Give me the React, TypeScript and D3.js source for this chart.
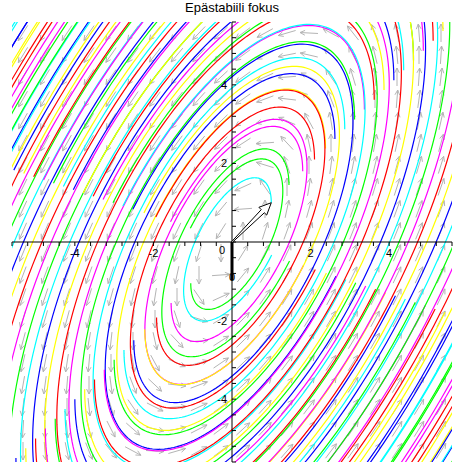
import React from "react";
import * as d3 from "d3";

// unstable focus: x' = A*x + B*y, y' = C*x + D*y
const coefA = 1.1;
const coefB = -1.1;
const coefC = 2.6;
const coefD = -0.92;

const title = "Epästabiili fokus";

// start points (k, k) in 1st quadrant and (-k, -k) in 3rd quadrant
const startsQ1 = [1.0, 1.45, 1.8, 2.1, 2.38, 2.62, 2.87, 3.12, 3.37, 3.62, 3.87, 4.12, 4.37, 4.62, 4.87,
  5.12, 5.37, 5.62, 5.87, 6.12, 6.37, 6.62, 6.87, 7.12, 7.37, 7.62, 7.87, 8.12, 8.37, 8.62, 8.87, 9.12,
  9.37, 9.62, 9.87, 10.12, 10.37, 10.62, 10.87, 11.12];
const startsQ3 = [1.05, 1.55, 1.92, 2.22, 2.5, 2.75, 3.0, 3.25, 3.5, 3.75, 4.0, 4.25, 4.5, 4.75, 5.0,
  5.25, 5.5, 5.75, 6.0, 6.25, 6.5, 6.75, 7.0, 7.25, 7.5, 7.75, 8.0, 8.25, 8.5, 8.75, 9.0, 9.25, 9.5,
  9.75, 10.0, 10.25, 10.5, 10.75, 11.0, 11.25];
const lineColors = ["#00ffff", "#00ff00", "#ff00ff", "#ff0000", "#ffff00", "#0000ff"];
const tickLabels = [-4, -2, 2, 4];

const T_END = 4.0;
const DT = 0.02;

const field = (x: number, y: number) => [coefA * x + coefB * y, coefC * x + coefD * y];

const integrate = (x0: number, y0: number) => {
  const pts: [number, number][] = [[x0, y0]];
  let x = x0, y = y0;
  for (let t = 0; t < T_END; t += DT) {
    const k1 = field(x, y);
    const k2 = field(x + DT / 2 * k1[0], y + DT / 2 * k1[1]);
    const k3 = field(x + DT / 2 * k2[0], y + DT / 2 * k2[1]);
    const k4 = field(x + DT * k3[0], y + DT * k3[1]);
    x += DT / 6 * (k1[0] + 2 * k2[0] + 2 * k3[0] + k4[0]);
    y += DT / 6 * (k1[1] + 2 * k2[1] + 2 * k3[1] + k4[1]);
    pts.push([x, y]);
    if (Math.abs(x) > 60 || Math.abs(y) > 60) break;
  }
  return pts;
};

export default function App() {
  const W = 464, H = 464;
  const left = 12, right = 452, top = 22, bottom = 462;
  const xS = d3.scaleLinear().domain([-5.6, 5.6]).range([left, right]);
  const yS = d3.scaleLinear().domain([-5.6, 5.6]).range([bottom, top]);

  const line = d3.line<[number, number]>().x(d => xS(d[0])).y(d => yS(d[1]));

  const curves: { d: string; c: string }[] = [];
  startsQ1.forEach((k, i) => curves.push({ d: line(integrate(k, k)) || "", c: lineColors[i % 6] }));
  startsQ3.forEach((k, i) => curves.push({ d: line(integrate(-k, -k)) || "", c: lineColors[(i + 1) % 6] }));

  // direction field arrows
  const grid = d3.range(20).map(i => -5.6 + 0.56 * (i + 0.5));
  const arrows: JSX.Element[] = [];
  grid.forEach((gx, i) => grid.forEach((gy, j) => {
    const [u, v] = field(gx, gy);
    const px = xS(gx), py = yS(gy);
    const dxp = u, dyp = -v;
    const m = Math.hypot(dxp, dyp) || 1;
    const L = 18;
    const ux = dxp / m, uy = dyp / m;
    const x1 = px - ux * L / 2, y1 = py - uy * L / 2;
    const x2 = px + ux * L / 2, y2 = py + uy * L / 2;
    const hl = 5.5, ang = 0.45;
    const ca = Math.cos(ang), sa = Math.sin(ang);
    const h1x = x2 - hl * (ux * ca - uy * sa), h1y = y2 - hl * (uy * ca + ux * sa);
    const h2x = x2 - hl * (ux * ca + uy * sa), h2y = y2 - hl * (uy * ca - ux * sa);
    arrows.push(
      <path key={`a${i}-${j}`} d={`M${x1},${y1}L${x2},${y2}M${h1x},${h1y}L${x2},${y2}L${h2x},${h2y}`}
        stroke="#b4b4b4" strokeWidth={1} fill="none" />
    );
  }));

  // black hollow arrow from origin to (1,1)
  const ox = xS(0), oy = yS(0), tx = xS(1), ty = yS(1);
  const len = Math.hypot(tx - ox, ty - oy);
  const ex = (tx - ox) / len, ey = (ty - oy) / len;
  const nx = -ey, ny = ex;
  const hw = 2.2, hh = 5.5, headL = 12;
  const neckX = tx - ex * headL, neckY = ty - ey * headL;
  const arrowPts = [
    [ox + nx * 0.5, oy + ny * 0.5],
    [neckX + nx * hw, neckY + ny * hw],
    [neckX + nx * hh, neckY + ny * hh],
    [tx, ty],
    [neckX - nx * hh, neckY - ny * hh],
    [neckX - nx * hw, neckY - ny * hw],
    [ox - nx * 0.5, oy - ny * 0.5],
  ].map(p => p.join(",")).join(" ");

  const minorTicks = d3.range(-14, 15).map(i => i * 0.4);
  const font = "'Liberation Sans', Arial, sans-serif";

  return (
    <svg width={W} height={H} style={{ position: "absolute", left: 0, top: 0, background: "#fff" }}>
      <defs>
        <clipPath id="plotClip">
          <rect x={left} y={top} width={right - left} height={bottom - top} />
        </clipPath>
      </defs>
      <text x={232} y={12} textAnchor="middle" fontFamily={font} fontSize={13}>{title}</text>
      <g clipPath="url(#plotClip)">
        {arrows}
        {curves.map((c, i) => (
          <path key={i} d={c.d} stroke={c.c} strokeWidth={1.2} fill="none" />
        ))}
      </g>
      {/* axes */}
      <line x1={left} x2={right} y1={yS(0)} y2={yS(0)} stroke="#000" strokeWidth={1} />
      <line x1={xS(0)} x2={xS(0)} y1={top} y2={bottom} stroke="#000" strokeWidth={1} />
      <line x1={xS(0)} x2={xS(0)} y1={yS(0)} y2={yS(0) + 38} stroke="#000" strokeWidth={3} />
      {minorTicks.map((t, i) => (
        <g key={`t${i}`}>
          <line x1={xS(t)} x2={xS(t)} y1={yS(0)} y2={yS(0) + 4} stroke="#000" />
          <line x1={xS(0)} x2={xS(0) + 4} y1={yS(t)} y2={yS(t)} stroke="#000" />
        </g>
      ))}
      {tickLabels.map(t => (
        <text key={`xl${t}`} x={xS(t)} y={yS(0) + 15} textAnchor="middle" fontFamily={font} fontSize={11}>{t}</text>
      ))}
      {tickLabels.map(t => (
        <text key={`yl${t}`} x={xS(0) - 5} y={yS(t) + 4} textAnchor="end" fontFamily={font} fontSize={11}>{t}</text>
      ))}
      <text x={xS(0) - 10} y={yS(0) + 12} textAnchor="middle" fontFamily={font} fontSize={11}>0</text>
      <text x={xS(0)} y={yS(0) + 39} textAnchor="middle" fontFamily={font} fontSize={11}>0</text>
      <polygon points={arrowPts} fill="#fff" stroke="#000" strokeWidth={1} />
    </svg>
  );
}
